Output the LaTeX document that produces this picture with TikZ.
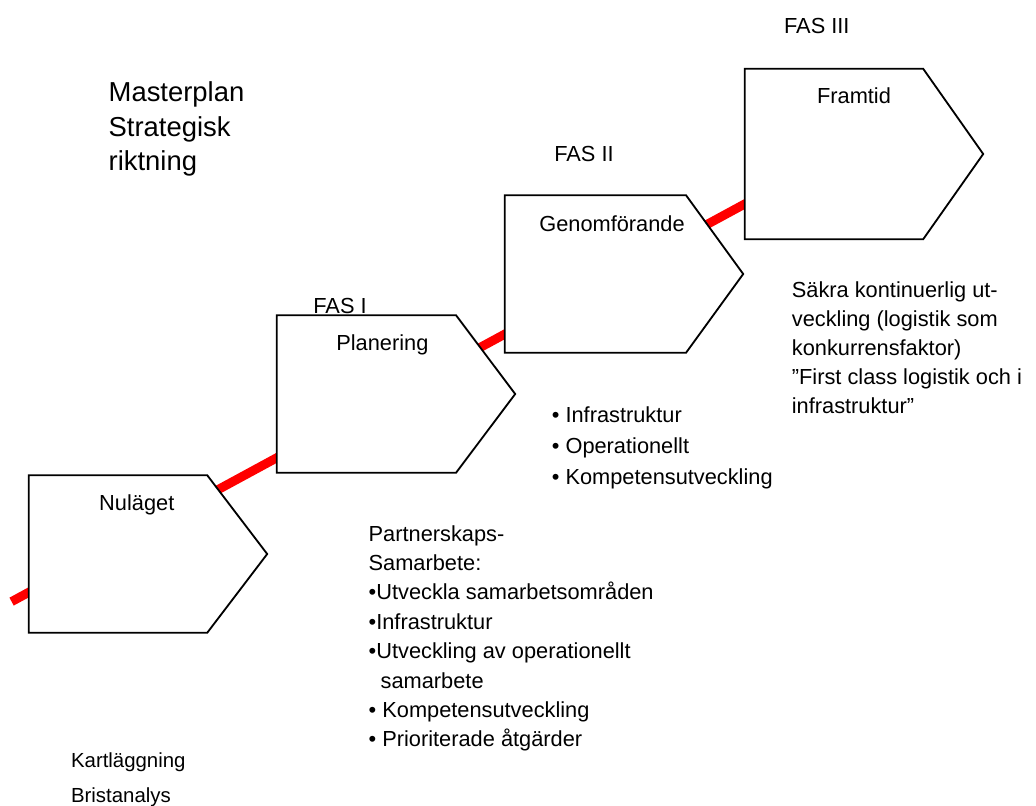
\documentclass[tikz,border=0pt]{standalone}
\usepackage{fontspec}
\setmainfont{Liberation Sans}
\usetikzlibrary{positioning}
\definecolor{ink}{RGB}{0,0,0}
\definecolor{route}{RGB}{255,0,0}
\tikzset{
    phase/.style={
        draw=ink,
        fill=white,
        line width=1.3pt,
        line join=miter
    },
    routeline/.style={
        draw=route,
        line width=6.4pt,
        line cap=butt
    },
    phaselabel/.style={
        font=\fontsize{15.5}{18}\selectfont,
        text=ink,
        anchor=base,
        inner sep=0pt
    },
    % multi-line notes sit on the baseline of their last line
    notes/.style={
        font=\fontsize{15.5}{20.9}\selectfont,
        text=ink,
        align=left,
        anchor=base west,
        inner sep=0pt
    }
}
\begin{document}
\begin{tikzpicture}

    \path[use as bounding box, fill=white] (0,0) rectangle (25.9,-20.125);

    % Red route behind the phases
    \coordinate (routestart) at (0.29,-15.04);
    \coordinate (routeend) at (20.0,-4.35);
    \draw[routeline] (routestart) -- (routeend);

    % Phases
    \draw[phase] (0.72,-11.88) -- (5.18,-11.88) -- (6.68,-13.85) -- (5.18,-15.82) -- (0.72,-15.82) -- cycle;
    \draw[phase] (6.92,-7.88) -- (11.4,-7.88) -- (12.88,-9.85) -- (11.4,-11.82) -- (6.92,-11.82) -- cycle;
    \draw[phase] (12.62,-4.88) -- (17.15,-4.88) -- (18.58,-6.85) -- (17.15,-8.82) -- (12.62,-8.82) -- cycle;
    \draw[phase] (18.62,-1.72) -- (23.08,-1.72) -- (24.58,-3.85) -- (23.08,-5.98) -- (18.62,-5.98) -- cycle;

    \node[phaselabel] (nulaget) at (3.42,-12.75) {Nuläget};
    \node[phaselabel] (planering) at (9.56,-8.75) {Planering};
    \node[phaselabel] (genomforande) at (15.3,-5.79) {Genomförande};
    \node[phaselabel] (framtid) at (21.35,-2.58) {Framtid};

    % Phase numbers
    \node[phaselabel] (fas1) at (8.5,-7.83) {FAS I};
    \node[phaselabel] (fas2) at (14.6,-4.04) {FAS II};
    \node[phaselabel] (fas3) at (20.42,-0.83) {FAS III};

    % Notes
    \node[notes, font=\fontsize{19.5}{24.5}\selectfont] (masterplan) at (2.71,-4.27)
        {Masterplan\\Strategisk\\riktning};
    \node[notes, font=\fontsize{14.5}{24.2}\selectfont] (kartlaggning) at (1.77,-20.05)
        {Kartläggning\\Bristanalys};
    \node[notes] (partnerskap) at (9.21,-18.67)
        {Partnerskaps-\\Samarbete:\\•Utveckla samarbetsområden\\•Infrastruktur\\•Utveckling av operationellt\\\hspace{0.3cm}samarbete\\• Kompetensutveckling\\• Prioriterade åtgärder};
    \node[notes, font=\fontsize{15.5}{22}\selectfont] (insatser) at (13.79,-12.12)
        {• Infrastruktur\\• Operationellt\\• Kompetensutveckling};
    \node[notes, font=\fontsize{15.5}{20.6}\selectfont] (framtidmal) at (19.79,-10.33)
        {Säkra kontinuerlig ut-\\veckling (logistik som\\konkurrensfaktor)\\”First class logistik och i\\infrastruktur”};

\end{tikzpicture}
\end{document}
